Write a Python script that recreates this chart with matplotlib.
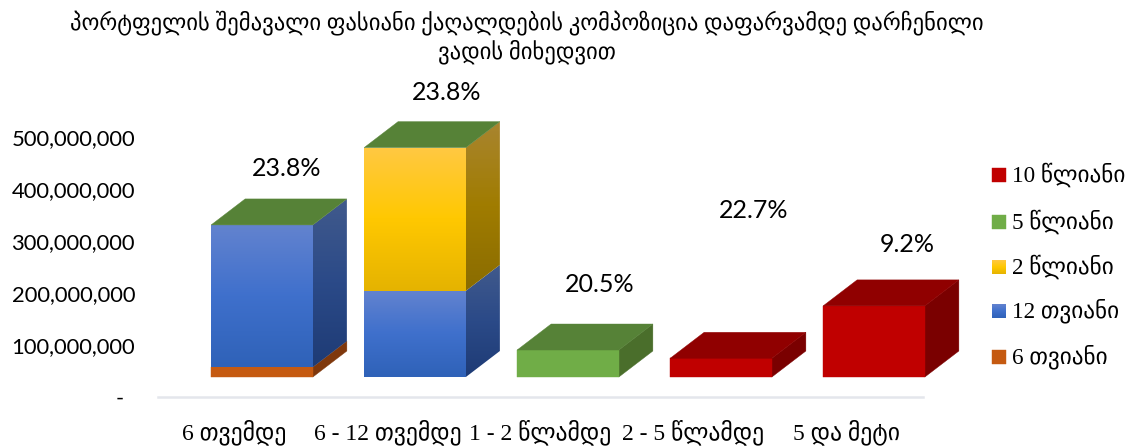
import numpy as np
import matplotlib
matplotlib.use("Agg")
import matplotlib.pyplot as plt
from matplotlib.colors import LinearSegmentedColormap
from matplotlib.patches import Polygon
from matplotlib.transforms import IdentityTransform

categories = ["6 თვემდე", "6 - 12 თვემდე", "1 - 2 წლამდე", "2 - 5 წლამდე", "5 და მეტი"]
series_names = ["6 თვიანი", "12 თვიანი", "2 წლიანი", "5 წლიანი", "10 წლიანი"]
months_6 = [19e6, 0, 0, 0, 0]
months_12 = [274e6, 166e6, 0, 0, 0]
years_2 = [0, 276e6, 0, 0, 0]
years_5 = [0, 0, 52e6, 0, 0]
years_10 = [0, 0, 0, 36e6, 137e6]
percent_labels = ["23.8%", "23.8%", "20.5%", "22.7%", "9.2%"]
y_ticks = [0, 100e6, 200e6, 300e6, 400e6, 500e6]
top_series = [3, 3, 3, 4, 4]

title_lines = "პორტფელის შემავალი ფასიანი ქაღალდების კომპოზიცია დაფარვამდე დარჩენილი\nვადის მიხედვით"

W, H = 1133, 447
GEO = ["Liberation Serif", "DejaVu Sans"]
NUM = ["Lato", "DejaVu Sans"]

# front, side, top colours of every series
front_cols = [["#c55a11"], ["#6383cf", "#3f70cc", "#2f62b8"], ["#ffc943", "#ffc800", "#e5b300"], ["#70ad47"], ["#c00000"]]
side_cols = [["#7f380c"], ["#415a8c", "#2b4a88", "#1e3b75"], ["#a98530", "#a07c00", "#8a6c00"], ["#4a6e2b"], ["#7a0000"]]
top_cols = ["#7f380c", "#2f5597", "#bf9000", "#568237", "#900000"]

DEPTH_X, DEPTH_Y = 34, 26
FRONT_X, FRONT_Y = 27.5, 20
BAR_W = 0.665

fig = plt.figure(figsize=(W / 100, H / 100), dpi=100)
ax = fig.add_axes([158 / W, 1 - 397 / H, 765 / W, 337 / H])
ax.set_autoscale_on(False)
ax.set_xlim(-0.5, 4.5)
ax.set_ylim(0, 337 / 51.9 * 1e8)
ax.set_xticks(range(5))
ax.set_xticklabels(categories, fontsize=17, family=GEO)
ax.set_yticks(y_ticks)
ax.set_yticklabels(["-  "] + [f"{v:,.0f}" for v in y_ticks[1:]], fontsize=15.8, family=NUM)
ax.tick_params(length=0)
ax.tick_params(axis="x", pad=16)
ax.tick_params(axis="y", pad=16.5)
for s in ["top", "left", "right"]:
    ax.spines[s].set_visible(False)
ax.spines["bottom"].set_color("#e4e6ec")
ax.spines["bottom"].set_linewidth(1.8)

z = [3]


def face(verts, cols, axes=ax):
    # flat polygon, or a vertical gradient clipped to the polygon
    z[0] += 1
    verts = np.array(verts)
    if len(cols) == 1:
        axes.add_patch(Polygon(verts, closed=True, fc=cols[0], ec=cols[0], lw=0.3,
                               transform=IdentityTransform(), zorder=z[0], clip_on=False))
        return
    cmap = LinearSegmentedColormap.from_list("g", cols)
    clip = Polygon(verts, closed=True, transform=IdentityTransform())
    im = axes.imshow(np.linspace(0, 1, 256)[:, None], cmap=cmap, aspect="auto", origin="upper",
                     interpolation="bilinear", transform=IdentityTransform(), zorder=z[0],
                     extent=(verts[:, 0].min(), verts[:, 0].max(), verts[:, 1].min(), verts[:, 1].max()))
    im.set_clip_box(fig.bbox)
    im.set_clip_path(clip)


def to_px(x, y):
    px = ax.transData.transform((x, y))
    return px[0] + FRONT_X, px[1] + FRONT_Y


stacks = [months_6, months_12, years_2, years_5, years_10]
for i in range(5):
    bottom = 0
    for k, values in enumerate(stacks):
        v = values[i]
        if v == 0:
            continue
        x0, y0 = to_px(i - BAR_W / 2, bottom)
        x1, y1 = to_px(i + BAR_W / 2, bottom + v)
        face([(x1, y0), (x1 + DEPTH_X, y0 + DEPTH_Y), (x1 + DEPTH_X, y1 + DEPTH_Y), (x1, y1)], side_cols[k])
        face([(x0, y0), (x1, y0), (x1, y1), (x0, y1)], front_cols[k])
        bottom += v
    face([(x0, y1), (x1, y1), (x1 + DEPTH_X, y1 + DEPTH_Y), (x0 + DEPTH_X, y1 + DEPTH_Y)], [top_cols[top_series[i]]])


def px_text(x, y, s, **kw):
    fig.text(x / W, 1 - y / H, s, **kw)


label_x = [287, 447, 600, 754, 907]
label_y = [169, 92, 284, 211, 245]
for x, y, s in zip(label_x, label_y, percent_labels):
    px_text(x, y, s, ha="center", va="center", fontsize=18, family=NUM, color="black")

legend_y = [357, 311, 267, 222, 175]
for k, y in enumerate(legend_y):
    face([(992, H - y + 7), (1006, H - y + 7), (1006, H - y - 7), (992, H - y - 7)], front_cols[k])
    px_text(1012, y, series_names[k], ha="left", va="center", fontsize=16.7, family=GEO, color="black")

px_text(527, 37.5, title_lines, ha="center", va="center", fontsize=16.3, family=GEO, color="black",
        linespacing=1.23)

fig.savefig("out.png", dpi=100)
